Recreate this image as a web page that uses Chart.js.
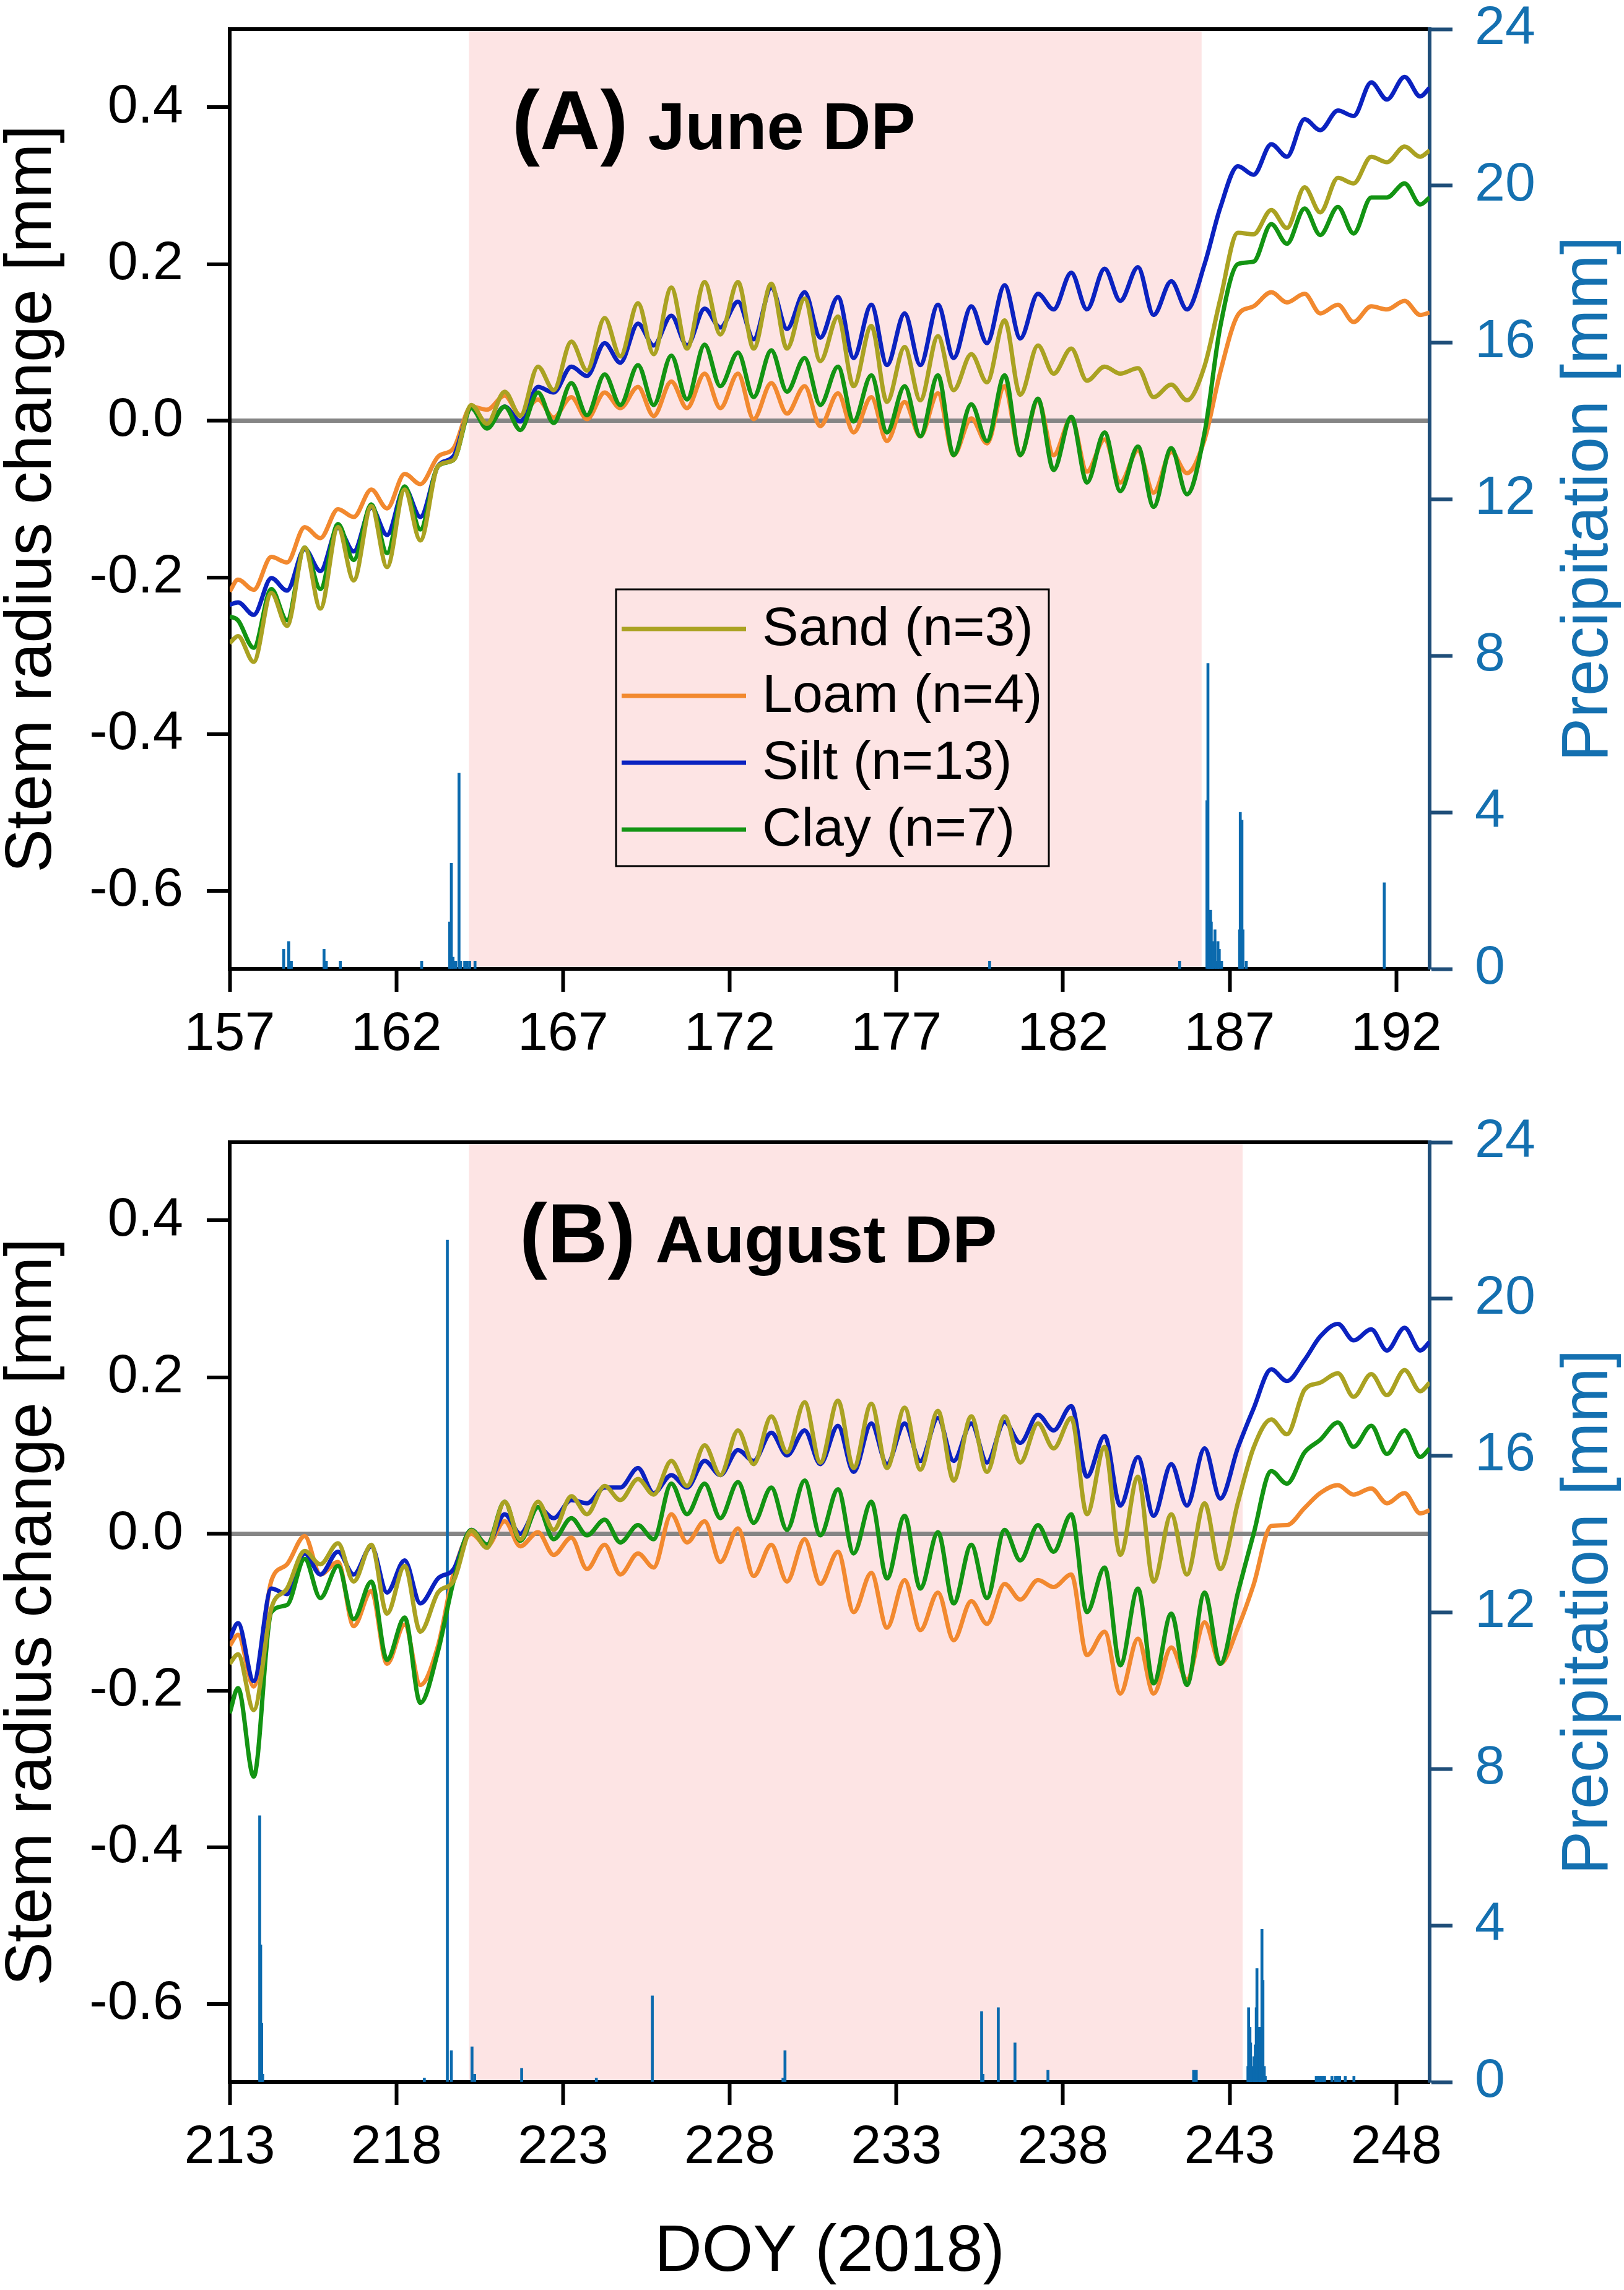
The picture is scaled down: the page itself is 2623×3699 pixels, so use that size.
<!DOCTYPE html>
<html>
<head>
<meta charset="utf-8">
<script src="https://cdn.jsdelivr.net/npm/chart.js@4.4.1/dist/chart.umd.min.js"></script>
<style>
  html, body { margin: 0; padding: 0; background: #fff; }
  #wrap { position: relative; width: 2623px; height: 3699px; }
  .panel { position: absolute; left: 0; width: 2623px; }
</style>
</head>
<body>
<div id="wrap">
  <div class="panel" style="top:0;height:1760px"><canvas id="chartA"></canvas></div>
  <div class="panel" style="top:1760px;height:1939px"><canvas id="chartB"></canvas></div>
</div>
<script>
// ---- data ----
// stem radius is sampled twice a day: morning maximum and afternoon minimum
const PHASES = [0.25, 0.72];
const N_DAYS = 36;

const SERIES_LABELS = ['Sand (n=3)', 'Loam (n=4)', 'Silt (n=13)', 'Clay (n=7)'];

// June drought period, DOY 157-193
const SAND_A = [-0.284,
  -0.275,-0.308, -0.220,-0.262, -0.162,-0.240, -0.136,-0.204, -0.109,-0.187,
  -0.088,-0.153, -0.058,-0.050, 0.020,-0.004, 0.037,0.006, 0.069,0.039,
  0.101,0.064, 0.131,0.082, 0.150,0.085, 0.170,0.092, 0.177,0.110,
  0.177,0.092, 0.175,0.092, 0.156,0.076, 0.133,0.044, 0.121,0.024,
  0.094,0.026, 0.108,0.039, 0.085,0.049, 0.128,0.033, 0.096,0.060,
  0.092,0.051, 0.069,0.060, 0.067,0.030, 0.046,0.026, 0.070,0.155,
  0.240,0.238, 0.269,0.246, 0.298,0.266, 0.310,0.303, 0.337,0.330, 0.350,0.337,
  0.345];
const LOAM_A = [-0.218,
  -0.203,-0.216, -0.174,-0.181, -0.136,-0.150, -0.113,-0.123, -0.088,-0.112,
  -0.068,-0.081, -0.046,-0.035, 0.018,0.014, 0.032,0.007, 0.027,0.004,
  0.030,0.002, 0.036,0.016, 0.043,0.006, 0.050,0.016, 0.060,0.016,
  0.060,0.002, 0.048,0.009, 0.044,-0.007, 0.035,-0.015, 0.030,-0.026,
  0.024,-0.020, 0.035,-0.044, 0.003,-0.029, 0.044,-0.044, 0.026,-0.044,
  0.003,-0.065, -0.024,-0.079, -0.038,-0.092, -0.040,-0.067, -0.024,0.062,
  0.135,0.146, 0.164,0.151, 0.162,0.137, 0.148,0.126, 0.146,0.142, 0.153,0.135,
  0.138];
const SILT_A = [-0.235,
  -0.232,-0.248, -0.201,-0.217, -0.164,-0.192, -0.137,-0.167, -0.111,-0.146,
  -0.086,-0.123, -0.058,-0.045, 0.016,-0.008, 0.018,-0.001, 0.043,0.036,
  0.069,0.057, 0.099,0.074, 0.124,0.096, 0.134,0.096, 0.143,0.119,
  0.152,0.104, 0.170,0.117, 0.164,0.106, 0.158,0.080, 0.148,0.071,
  0.137,0.071, 0.148,0.080, 0.146,0.099, 0.173,0.105, 0.162,0.142,
  0.189,0.142, 0.194,0.153, 0.196,0.135, 0.178,0.142, 0.200,0.272,
  0.325,0.314, 0.353,0.337, 0.385,0.371, 0.396,0.389, 0.432,0.410, 0.439,0.414,
  0.425];
const CLAY_A = [-0.250,
  -0.255,-0.290, -0.215,-0.255, -0.162,-0.215, -0.132,-0.178, -0.107,-0.169,
  -0.084,-0.139, -0.058,-0.050, 0.016,-0.010, 0.018,-0.012, 0.036,-0.003,
  0.048,0.007, 0.059,0.020, 0.071,0.020, 0.083,0.027, 0.097,0.044,
  0.087,0.030, 0.090,0.037, 0.080,0.020, 0.069,-0.001, 0.058,-0.015,
  0.044,-0.020, 0.058,-0.044, 0.021,-0.026, 0.058,-0.044, 0.028,-0.063,
  0.005,-0.079, -0.015,-0.090, -0.033,-0.110, -0.035,-0.094, -0.015,0.120,
  0.200,0.203, 0.251,0.226, 0.271,0.237, 0.273,0.239, 0.285,0.285, 0.303,0.276,
  0.285];

// August drought period, DOY 213-249
const SAND_B = [-0.166,
  -0.154,-0.225, -0.095,-0.070, -0.022,-0.039, -0.012,-0.061, -0.014,-0.102,
  -0.041,-0.125, -0.075,-0.060, 0.004,-0.018, 0.041,-0.007, 0.041,0.005,
  0.048,0.025, 0.061,0.043, 0.070,0.050, 0.093,0.061, 0.113,0.075,
  0.132,0.089, 0.150,0.104, 0.168,0.091, 0.170,0.084, 0.166,0.084,
  0.161,0.082, 0.157,0.068, 0.150,0.079, 0.150,0.091, 0.141,0.109,
  0.148,0.025, 0.111,-0.027, 0.073,-0.061, 0.025,-0.052, 0.039,-0.045,
  0.040,0.110, 0.146,0.127, 0.184,0.193, 0.205,0.175, 0.204,0.177, 0.209,0.182,
  0.193];
const LOAM_B = [-0.143,
  -0.129,-0.195, -0.060,-0.039, -0.003,-0.052, -0.036,-0.118, -0.073,-0.166,
  -0.116,-0.193, -0.143,-0.050, 0.000,-0.016, 0.016,-0.016, 0.002,-0.027,
  -0.005,-0.045, -0.014,-0.052, -0.025,-0.043, 0.025,-0.011, 0.016,-0.036,
  0.007,-0.054, -0.014,-0.061, -0.007,-0.064, -0.023,-0.100, -0.050,-0.120,
  -0.059,-0.123, -0.075,-0.136, -0.086,-0.115, -0.064,-0.084, -0.059,-0.068,
  -0.052,-0.155, -0.125,-0.204, -0.134,-0.204, -0.145,-0.186, -0.113,-0.166,
  -0.120,-0.065, 0.010,0.011, 0.033,0.052, 0.062,0.050, 0.058,0.039, 0.052,0.026,
  0.030];
const SILT_B = [-0.134,
  -0.114,-0.188, -0.070,-0.077, -0.025,-0.052, -0.023,-0.052, -0.016,-0.075,
  -0.034,-0.089, -0.057,-0.045, 0.005,-0.014, 0.025,0.000, 0.034,0.020,
  0.043,0.039, 0.059,0.059, 0.084,0.052, 0.075,0.059, 0.093,0.075,
  0.107,0.093, 0.129,0.100, 0.132,0.089, 0.138,0.079, 0.141,0.089,
  0.141,0.093, 0.148,0.093, 0.141,0.091, 0.143,0.116, 0.152,0.132,
  0.163,0.073, 0.125,0.036, 0.098,0.023, 0.089,0.036, 0.109,0.045,
  0.110,0.160, 0.210,0.195, 0.222,0.252, 0.268,0.247, 0.261,0.234, 0.263,0.234,
  0.245];
const CLAY_B = [-0.229,
  -0.197,-0.310, -0.100,-0.091, -0.032,-0.082, -0.041,-0.109, -0.061,-0.161,
  -0.107,-0.216, -0.150,-0.060, 0.005,-0.014, 0.041,-0.009, 0.034,-0.007,
  0.020,-0.002, 0.018,-0.011, 0.011,-0.007, 0.064,0.025, 0.064,0.020,
  0.066,0.014, 0.059,0.005, 0.068,-0.002, 0.057,-0.025, 0.041,-0.057,
  0.023,-0.070, 0.002,-0.089, -0.014,-0.082, 0.005,-0.034, 0.011,-0.023,
  0.025,-0.100, -0.043,-0.168, -0.070,-0.191, -0.102,-0.193, -0.075,-0.166,
  -0.075,0.000, 0.080,0.064, 0.104,0.120, 0.142,0.111, 0.138,0.102, 0.132,0.098,
  0.109];

// precipitation events [mm]
const RAIN_A_DOY = [158.62, 158.77, 158.80, 158.85, 159.83, 159.86, 159.90, 160.32, 162.76,
  163.60, 163.65, 163.70, 163.78, 163.88, 163.93, 164.05, 164.12, 164.20, 164.36,
  179.80, 185.50,
  186.32, 186.35, 186.38, 186.43, 186.45, 186.48, 186.50, 186.56, 186.60, 186.65, 186.69, 186.76,
  187.30, 187.32, 187.37, 187.40, 187.50, 191.64];
const RAIN_A_MM = [0.5, 0.7, 0.2, 0.2, 0.5, 0.2, 0.2, 0.2, 0.2,
  1.2, 2.7, 0.3, 0.2, 5.0, 0.2, 0.2, 0.2, 0.2, 0.2,
  0.2, 0.2,
  4.3, 7.8, 1.2, 1.5, 1.2, 0.5, 0.7, 1.0, 0.2, 0.7, 0.5, 0.2,
  1.0, 4.0, 3.8, 1.0, 0.2, 2.2];
const RAIN_B_DOY = [213.90, 213.93, 213.96, 213.99, 218.84, 219.53, 219.65, 220.27, 220.35,
  221.76, 224.00, 225.68, 229.60, 229.66, 235.56, 235.60, 236.06, 236.56, 237.55, 241.92, 242.00,
  243.55, 243.57, 243.61, 243.63, 243.69, 243.73, 243.77, 243.80, 243.82, 243.88, 243.91, 243.93,
  243.97, 244.00, 244.04, 244.07,
  245.60, 245.65, 245.70, 245.75, 245.80, 245.85, 246.07, 246.18, 246.22, 246.26, 246.30, 246.47, 246.73];
const RAIN_B_MM = [6.8, 3.5, 1.5, 0.2, 0.1, 21.5, 0.8, 0.9, 0.2,
  0.35, 0.1, 2.2, 0.1, 0.8, 1.8, 0.2, 1.9, 1.0, 0.3, 0.3, 0.3,
  0.4, 1.9, 1.4, 1.0, 0.4, 0.65, 0.95, 1.9, 2.9, 1.4, 1.4, 1.0,
  3.9, 2.6, 0.4, 0.15,
  0.15, 0.15, 0.15, 0.15, 0.15, 0.15, 0.15, 0.15, 0.15, 0.15, 0.15, 0.15, 0.15];

// drought period (shaded)
const DP_A = [164.18, 186.16];
const DP_B = [220.18, 243.39];

const X_TICKS_A = [157, 162, 167, 172, 177, 182, 187, 192];
const X_TICKS_B = [213, 218, 223, 228, 233, 238, 243, 248];
const Y_TICKS = [-0.6, -0.4, -0.2, 0.0, 0.2, 0.4];
const P_TICKS = [0, 4, 8, 12, 16, 20, 24];

// ---- styling ----
const FONT = "'Liberation Sans', Arial, Helvetica, sans-serif";
const COLORS = ['#aaa222', '#f2892f', '#0b22c0', '#139413'];
const DRAW_ORDER = [1, 4, 3, 2];
const LINE_W = 7;
const RAIN_COLOR = '#0b6aae';
const P_AXIS = '#1f4e79';
const P_TEXT = '#1470b0';
const SHADE = '#fde4e4';

Chart.defaults.font.family = FONT;

function dayTimes(start) {
  const t = [start];
  for (let d = 0; d < N_DAYS; d++) PHASES.forEach(p => t.push(start + d + p));
  t.push(start + N_DAYS);
  return t;
}

const shadePlugin = {
  id: 'dpShade',
  beforeDraw(chart, args, opts) {
    const {ctx, chartArea: a, scales: {x}} = chart;
    const x0 = x.getPixelForValue(opts.from);
    const x1 = x.getPixelForValue(opts.to);
    ctx.save();
    ctx.fillStyle = SHADE;
    ctx.fillRect(x0, a.top, x1 - x0, a.bottom - a.top);
    ctx.restore();
  }
};

const panelTitle = {
  id: 'panelTitle',
  afterDatasetsDraw(chart, args, opts) {
    const {ctx, chartArea: a} = chart;
    const x = a.left + opts.dx, y = a.top + 194;
    ctx.save();
    ctx.fillStyle = '#000';
    ctx.textBaseline = 'alphabetic';
    ctx.font = `bold 135px ${FONT}`;
    ctx.fillText(opts.tag, x, y);
    const w = ctx.measureText(opts.tag).width;
    ctx.font = `bold 108px ${FONT}`;
    ctx.fillText(opts.text, x + w + 32, y);
    ctx.restore();
  }
};

const rightTitle = {
  id: 'rightTitle',
  afterDraw(chart, args, opts) {
    const {ctx, chartArea: a} = chart;
    ctx.save();
    ctx.translate(chart.width - 56, (a.top + a.bottom) / 2);
    ctx.rotate(-Math.PI / 2);
    ctx.font = `106px ${FONT}`;
    ctx.fillStyle = P_TEXT;
    ctx.textAlign = 'center';
    ctx.textBaseline = 'middle';
    ctx.fillText(opts.text, 0, 0);
    ctx.restore();
  }
};

const boxLegend = {
  id: 'boxLegend',
  afterDraw(chart, args, opts) {
    if (!opts.show) return;
    const {ctx, chartArea: a} = chart;
    const left = a.left + 624, top = a.top + 905, w = 699, h = 447;
    ctx.save();
    ctx.strokeStyle = '#000';
    ctx.lineWidth = 3;
    ctx.strokeRect(left, top, w, h);
    ctx.font = `88px ${FONT}`;
    ctx.textBaseline = 'middle';
    chart.data.datasets.filter(ds => ds.type === 'line').forEach((ds, i) => {
      const y = top + 64 + i * 108;
      ctx.strokeStyle = ds.borderColor;
      ctx.lineWidth = LINE_W;
      ctx.beginPath();
      ctx.moveTo(left + 9, y);
      ctx.lineTo(left + 210, y);
      ctx.stroke();
      ctx.fillStyle = '#000';
      ctx.fillText(ds.label, left + 236, y + 2);
    });
    ctx.restore();
  }
};

function makeChart(id, p) {
  const times = dayTimes(p.start);
  const lines = p.series.map((vals, i) => ({
    type: 'line',
    label: SERIES_LABELS[i],
    data: times.map((t, k) => ({x: t, y: vals[k]})),
    borderColor: COLORS[i],
    borderWidth: LINE_W,
    pointRadius: 0,
    cubicInterpolationMode: 'monotone',
    order: DRAW_ORDER[i],
    xAxisID: 'x',
    yAxisID: 'y'
  }));
  const rain = {
    type: 'bar',
    label: 'Precipitation',
    data: p.rainDoy.map((d, i) => ({x: d, y: p.rainMm[i]})),
    backgroundColor: RAIN_COLOR,
    barThickness: 4,
    grouped: false,
    order: 5,
    xAxisID: 'x',
    yAxisID: 'yP'
  };

  return new Chart(document.getElementById(id), {
    type: 'line',
    data: {datasets: [...lines, rain]},
    options: {
      responsive: true,
      maintainAspectRatio: false,
      devicePixelRatio: 1,
      animation: false,
      layout: {padding: {top: p.top, left: 0, right: 0, bottom: 0}, autoPadding: false},
      scales: {
        x: {
          type: 'linear', position: 'bottom', min: p.start, max: p.start + N_DAYS,
          offset: false,
          afterBuildTicks: s => { s.ticks = p.xTicks.map(v => ({value: v})); },
          ticks: {font: {size: 88}, color: '#000', padding: 17, maxRotation: 0, autoSkip: false,
                  callback: v => String(v)},
          grid: {drawOnChartArea: false, offset: false, tickLength: 37, tickWidth: 6, tickColor: '#000'},
          border: {display: true, width: 6, color: '#000'},
          title: {display: !!p.xTitle, text: p.xTitle || '', color: '#000',
                  font: {size: 106, lineHeight: 1}, padding: {top: 0, bottom: 7}},
          afterFit: s => { s.height = p.xHeight; s.paddingLeft = 0; s.paddingRight = 0; }
        },
        xTop: {
          type: 'linear', position: 'top', min: p.start, max: p.start + N_DAYS,
          ticks: {display: false},
          grid: {display: false},
          border: {display: true, width: 6, color: '#000'},
          afterFit: s => { s.height = 0; s.paddingLeft = 0; s.paddingRight = 0; }
        },
        y: {
          type: 'linear', position: 'left', min: -0.7, max: 0.5,
          afterBuildTicks: s => { s.ticks = Y_TICKS.map(v => ({value: v})); },
          ticks: {font: {size: 88}, color: '#000', padding: 38, callback: v => v.toFixed(1)},
          grid: {
            drawOnChartArea: true,
            color: c => (c.tick && c.tick.value === 0 ? '#858585' : 'rgba(0,0,0,0)'),
            lineWidth: c => (c.tick && c.tick.value === 0 ? 7 : 0),
            tickLength: 37, tickWidth: 6, tickColor: '#000'
          },
          border: {display: true, width: 6, color: '#000'},
          title: {display: true, text: 'Stem radius change [mm]', color: '#000',
                  font: {size: 106, lineHeight: 1}, padding: 0},
          afterFit: s => { s.width = 371; s.paddingTop = 0; s.paddingBottom = 0; }
        },
        yP: {
          type: 'linear', position: 'right', min: 0, max: 24,
          afterBuildTicks: s => { s.ticks = P_TICKS.map(v => ({value: v})); },
          ticks: {font: {size: 88}, color: P_TEXT, padding: 36},
          grid: {drawOnChartArea: false, tickLength: 37, tickWidth: 6, tickColor: P_AXIS},
          border: {display: true, width: 6, color: P_AXIS},
          afterFit: s => { s.width = 314; s.paddingTop = 0; s.paddingBottom = 0; }
        }
      },
      plugins: {
        legend: {display: false},
        tooltip: {enabled: false},
        dpShade: {from: p.dp[0], to: p.dp[1]},
        panelTitle: {tag: p.tag, text: p.title, dx: p.titleDx},
        rightTitle: {text: 'Precipitation [mm]'},
        boxLegend: {show: p.legend}
      }
    },
    plugins: [shadePlugin, panelTitle, rightTitle, boxLegend]
  });
}

makeChart('chartA', {
  start: 157, series: [SAND_A, LOAM_A, SILT_A, CLAY_A],
  rainDoy: RAIN_A_DOY, rainMm: RAIN_A_MM, dp: DP_A, xTicks: X_TICKS_A,
  top: 47, xHeight: 195, tag: '(A)', title: 'June DP', titleDx: 456, legend: true
});
makeChart('chartB', {
  start: 213, series: [SAND_B, LOAM_B, SILT_B, CLAY_B],
  rainDoy: RAIN_B_DOY, rainMm: RAIN_B_MM, dp: DP_B, xTicks: X_TICKS_B,
  top: 85, xHeight: 336, xTitle: 'DOY (2018)', tag: '(B)', title: 'August DP', titleDx: 468, legend: false
});
</script>
</body>
</html>
